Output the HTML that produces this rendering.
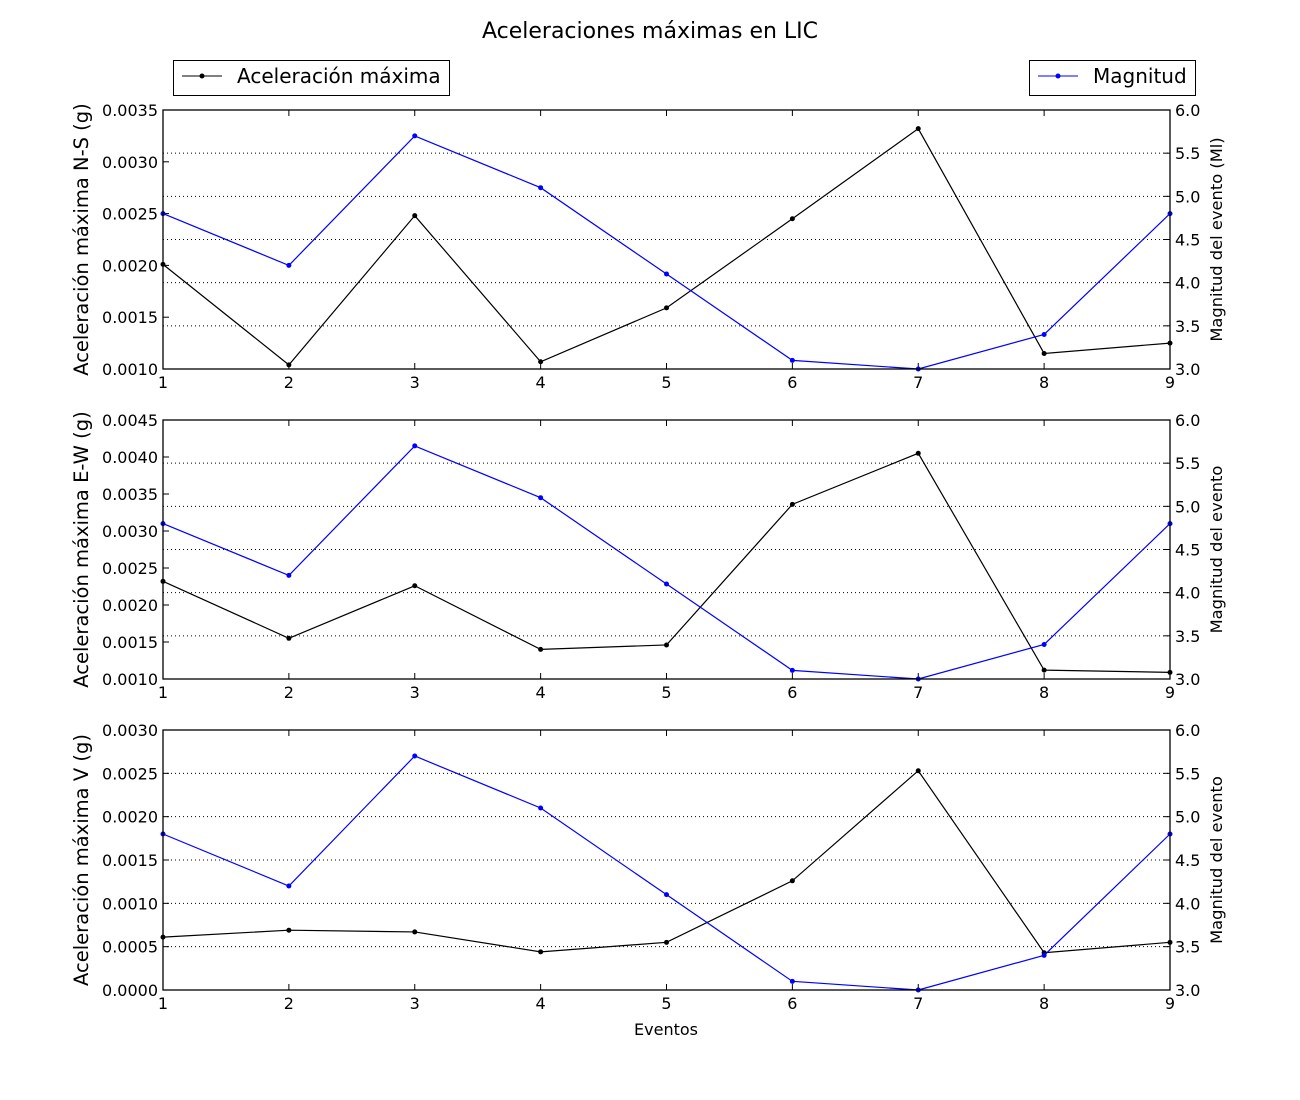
<!DOCTYPE html>
<html><head><meta charset="utf-8"><style>
body{margin:0;background:#fff;}
svg{display:block;font-family:"DejaVu Sans","Liberation Sans",sans-serif;}
</style></head><body>
<svg id="chart" width="1300" height="1100" viewBox="0 0 1300 1100">
<rect width="1300" height="1100" fill="#fff"/>
<text x="650" y="38" text-anchor="middle" font-size="22">Aceleraciones máximas en LIC</text>
<g>
<rect x="173.5" y="60.5" width="276" height="35" fill="#fff" stroke="#000"/>
<line x1="182" y1="76" x2="222" y2="76" stroke="#000"/><circle cx="202" cy="76" r="2.5" fill="#000"/>
<text x="237" y="83" font-size="20">Aceleración máxima</text>
</g>
<g>
<rect x="1029.5" y="60.5" width="166" height="35" fill="#fff" stroke="#000"/>
<line x1="1038" y1="76" x2="1078" y2="76" stroke="#00f"/><circle cx="1058" cy="76" r="2.5" fill="#00f"/>
<text x="1093" y="83" font-size="20">Magnitud</text>
</g>
<text x="666" y="1035" text-anchor="middle" font-size="16">Eventos</text>
<g id="panels"></g>
</svg>
<script>
const events = [1,2,3,4,5,6,7,8,9];
const magnitude = [4.8,4.2,5.7,5.1,4.1,3.1,3.0,3.4,4.8];
const accNS = [0.00201,0.00104,0.00248,0.00107,0.00159,0.00245,0.00332,0.00115,0.00125];
const accEW = [0.00232,0.00155,0.00226,0.0014,0.00146,0.00336,0.00405,0.00112,0.00109];
const accV = [0.00061,0.00069,0.00067,0.00044,0.00055,0.00126,0.00253,0.00043,0.00055];
const leftTicksNS = [0.001,0.0015,0.002,0.0025,0.003,0.0035];
const leftTicksEW = [0.001,0.0015,0.002,0.0025,0.003,0.0035,0.004,0.0045];
const leftTicksV = [0,0.0005,0.001,0.0015,0.002,0.0025,0.003];
const magTicks = [3.0,3.5,4.0,4.5,5.0,5.5,6.0];
const panelNames = ['ns','ew','v'];
const yLabels = ['Aceleración máxima N-S (g)','Aceleración máxima E-W (g)','Aceleración máxima V (g)'];
const rLabels = ['Magnitud del evento (Ml)','Magnitud del evento','Magnitud del evento'];

const NS='http://www.w3.org/2000/svg';
const root=document.getElementById('panels');
function mk(tag,attrs,parent){const e=document.createElementNS(NS,tag);for(const k in attrs)e.setAttribute(k,attrs[k]);(parent||root).appendChild(e);return e;}
const X0=163,X1=1170;
const xs=v=>X0+(v-1)/(8)*(X1-X0);
const panels=[{top:110,bot:369,data:accNS,ticks:leftTicksNS},{top:420,bot:679,data:accEW,ticks:leftTicksEW},{top:730,bot:990,data:accV,ticks:leftTicksV}];
panels.forEach((p,i)=>{
  const g=mk('g',{});
  
  
  const lmin=p.ticks[0],lmax=p.ticks[p.ticks.length-1];
  const yl=v=>p.bot-(v-lmin)/(lmax-lmin)*(p.bot-p.top);
  const yr=v=>p.bot-(v-3)/3*(p.bot-p.top);
  magTicks.forEach(t=>{const y=yr(t);
    if(t>3&&t<6){const gl=mk('line',{x1:X0,x2:X1,y1:y,y2:y,stroke:'#000','stroke-dasharray':'1,3','stroke-width':1},g);}
    mk('line',{x1:X1,x2:X1-6,y1:y,y2:y,stroke:'#000'},g);
    const tx=mk('text',{x:X1+5,y:y+6,'font-size':16},g);tx.textContent=t.toFixed(1);
    
  });
  p.ticks.forEach(t=>{const y=yl(t);
    mk('line',{x1:X0,x2:X0+6,y1:y,y2:y,stroke:'#000'},g);
    const tx=mk('text',{x:X0-5,y:y+6,'font-size':16,'text-anchor':'end'},g);tx.textContent=t.toFixed(4);
    
  });
  events.forEach(e=>{const x=xs(e);
    mk('line',{x1:x,x2:x,y1:p.bot,y2:p.bot-6,stroke:'#000'},g);
    mk('line',{x1:x,x2:x,y1:p.top,y2:p.top+6,stroke:'#000'},g);
    const tx=mk('text',{x:x,y:p.bot+19,'font-size':16,'text-anchor':'middle'},g);tx.textContent=e;
    
  });
  const l1=mk('polyline',{points:events.map((e,k)=>xs(e)+','+yl(p.data[k])).join(' '),fill:'none',stroke:'#000','stroke-width':1.2},g);
  
  const l2=mk('polyline',{points:events.map((e,k)=>xs(e)+','+yr(magnitude[k])).join(' '),fill:'none',stroke:'#00f','stroke-width':1.2},g);
  
  events.forEach((e,k)=>{
    const c=mk('circle',{cx:xs(e),cy:yl(p.data[k]),r:2.5,fill:'#000'},g);
    
    const d=mk('circle',{cx:xs(e),cy:yr(magnitude[k]),r:2.5,fill:'#00f'},g);
    
  });
  mk('rect',{x:X0,y:p.top,width:X1-X0,height:p.bot-p.top,fill:'none',stroke:'#000','stroke-width':1.3},g);
  const cy=(p.top+p.bot)/2;
  const ylab=mk('text',{x:88,y:cy,'font-size':19.5,'text-anchor':'middle',transform:`rotate(-90 88 ${cy})`},g);ylab.textContent=yLabels[i];
  
  const rlab=mk('text',{x:1222,y:cy,'font-size':16.3,'text-anchor':'middle',transform:`rotate(-90 1222 ${cy})`},g);rlab.textContent=rLabels[i];
  
});
</script>
</body></html>
